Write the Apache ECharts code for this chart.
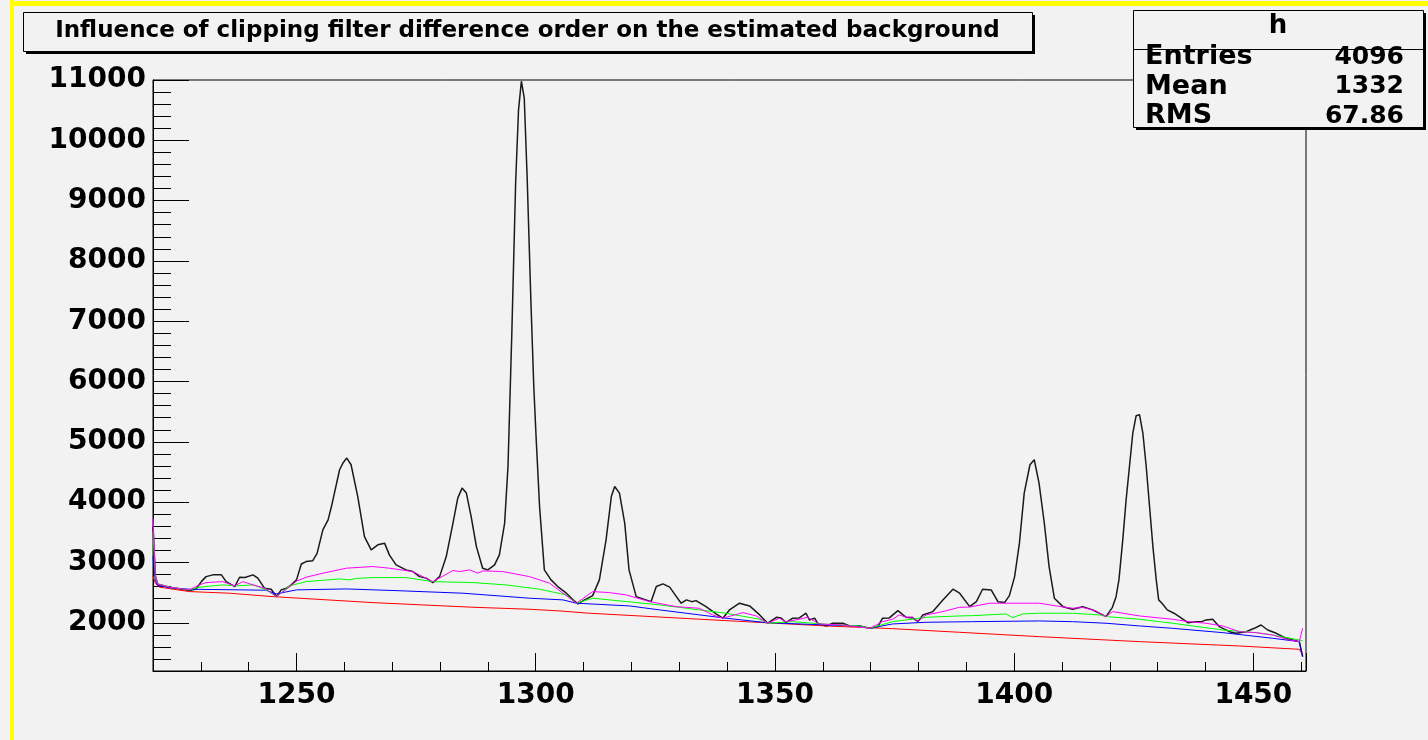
<!DOCTYPE html>
<html>
<head>
<meta charset="utf-8">
<script src="https://cdn.jsdelivr.net/npm/echarts@6/dist/echarts.min.js"></script>
<style>
html,body{margin:0;padding:0;background:#f2f2f2;}
#chart{width:1428px;height:740px;}
</style>
</head>
<body>
<div id="chart"></div>
<script>
// ---------------- data ----------------
const titleText = 'Influence of clipping filter difference order on the estimated background';
const statsTitle = 'h';
const statsLabels = ['Entries', 'Mean', 'RMS'];
const statsValues = ['4096', '1332', '67.86'];

const xRange = [1220, 1461];
const yRange = [1200, 11000];

const spectrumX = [1220.0,1220.5,1221.0,1223.5,1227.6,1229.0,1230.1,1231.1,1232.5,1234.3,1235.3,1237.1,1238.1,1239.2,1240.9,1241.9,1243.3,1244.7,1245.8,1246.8,1247.9,1248.9,1250.0,1251.0,1252.0,1253.4,1254.3,1255.5,1256.6,1257.3,1259.0,1259.7,1260.5,1261.4,1262.8,1264.2,1265.6,1267.0,1268.4,1269.4,1270.8,1272.9,1274.3,1275.7,1277.1,1278.5,1279.9,1281.3,1282.7,1283.7,1284.6,1285.5,1286.5,1287.6,1288.9,1290.0,1291.4,1292.4,1293.5,1294.2,1295.0,1295.8,1296.4,1297.0,1297.6,1298.2,1299.0,1299.6,1300.1,1300.8,1301.8,1303.2,1304.6,1306.4,1307.8,1308.8,1310.2,1311.9,1313.3,1314.7,1315.8,1316.5,1317.5,1318.6,1319.5,1321.0,1324.1,1325.2,1326.6,1328.0,1329.4,1330.4,1331.5,1332.6,1333.5,1335.6,1337.7,1339.1,1340.5,1342.6,1344.7,1346.8,1348.5,1350.3,1351.3,1352.3,1353.7,1355.1,1356.5,1357.2,1358.3,1358.9,1360.7,1362.1,1364.2,1365.6,1367.7,1369.8,1371.5,1372.5,1373.9,1375.7,1377.4,1378.8,1379.9,1380.9,1383.0,1385.1,1387.2,1388.6,1390.7,1392.1,1393.4,1395.2,1396.6,1398.0,1399.0,1400.1,1401.1,1402.1,1403.3,1404.2,1405.2,1406.3,1407.3,1408.4,1410.2,1412.2,1414.3,1416.4,1419.2,1420.5,1421.3,1421.9,1422.7,1423.4,1424.1,1424.8,1425.5,1426.2,1426.9,1427.6,1428.3,1429.0,1429.7,1430.2,1430.9,1432.0,1433.4,1434.5,1436.3,1438.0,1439.2,1440.1,1441.5,1442.9,1445.0,1446.4,1448.5,1450.2,1451.6,1453.0,1454.8,1456.8,1458.2,1459.6,1460.3];
const spectrumY = [3600,2750,2640,2590,2533,2560,2682,2765,2794,2794,2682,2600,2755,2750,2794,2740,2573,2556,2433,2545,2573,2628,2711,2975,3014,3030,3150,3540,3707,3927,4537,4648,4731,4620,4093,3429,3209,3292,3320,3126,2960,2877,2850,2765,2740,2666,2765,3097,3652,4067,4233,4150,3761,3263,2905,2877,2960,3126,3652,4591,6800,9300,10500,10980,10700,9400,7300,5900,5035,3927,2877,2711,2600,2490,2379,2312,2379,2450,2711,3375,4093,4260,4150,3652,2877,2433,2350,2600,2644,2590,2433,2324,2379,2350,2367,2267,2146,2075,2213,2324,2279,2130,1992,2091,2080,2002,2075,2080,2158,2047,2075,1992,1947,1992,1992,1947,1947,1908,1935,2075,2080,2201,2091,2080,2018,2130,2185,2379,2556,2490,2267,2350,2556,2545,2350,2334,2450,2765,3320,4150,4620,4703,4316,3652,2932,2407,2267,2224,2267,2213,2101,2250,2433,2711,3375,4038,4591,5146,5433,5450,5146,4591,3927,3263,2711,2379,2324,2213,2158,2101,2002,2018,2018,2047,2058,1935,1852,1825,1852,1908,1963,1880,1825,1743,1715,1687,1437];

// order 8 background (magenta)
const magentaX = [1220.0,1220.5,1221.0,1223.5,1227.6,1229.7,1231.1,1234.6,1237.1,1238.8,1240.9,1243.4,1245.8,1247.9,1250.0,1252.0,1255.5,1260.4,1266.0,1269.4,1274.3,1278.5,1282.7,1284.1,1286.2,1287.9,1289.0,1293.1,1298.7,1302.9,1305.7,1308.5,1311.9,1315.4,1318.9,1323.8,1329.4,1334.2,1337.0,1339.1,1343.3,1346.1,1348.5,1350.9,1352.3,1355.1,1356.8,1359.3,1364.2,1369.8,1372.5,1374.6,1376.0,1377.4,1378.8,1379.9,1381.6,1385.1,1388.6,1390.7,1394.9,1398.3,1405.3,1408.8,1412.2,1414.3,1417.0,1419.2,1420.6,1426.2,1433.1,1436.6,1440.1,1443.6,1447.1,1450.6,1454.0,1457.5,1459.6,1460.3];
const magentaY = [3735,2800,2640,2590,2545,2628,2666,2682,2612,2682,2628,2573,2433,2556,2690,2755,2821,2905,2932,2905,2849,2682,2866,2849,2877,2822,2860,2849,2765,2656,2490,2324,2517,2500,2462,2350,2267,2240,2130,2075,2168,2113,1992,2075,2018,2058,2091,1980,1963,1908,2018,2058,2130,2091,2096,2018,2130,2185,2257,2260,2324,2324,2324,2279,2240,2253,2200,2101,2185,2113,2058,2018,1992,1947,1852,1836,1797,1715,1687,1908];

// order 6 background (green)
const greenX = [1220.0,1220.5,1221.0,1223.5,1227.6,1229.7,1234.6,1237.7,1240.9,1243.4,1245.8,1248.5,1252.0,1259.0,1261.1,1262.5,1266.0,1272.9,1278.5,1286.9,1293.8,1300.8,1306.4,1308.5,1311.9,1325.9,1339.8,1346.8,1348.5,1353.7,1360.7,1367.7,1369.8,1374.6,1381.6,1388.6,1391.3,1398.3,1399.7,1401.8,1405.3,1412.2,1417.8,1419.5,1426.2,1433.1,1443.6,1450.6,1454.0,1459.6,1460.3];
const greenY = [3500,2750,2640,2590,2545,2590,2628,2612,2628,2556,2433,2611,2682,2727,2711,2735,2749,2749,2682,2666,2628,2556,2462,2324,2407,2296,2158,2058,1992,2018,1975,1947,1908,2018,2091,2113,2118,2146,2085,2146,2158,2158,2130,2101,2058,1992,1880,1836,1797,1715,1700];

// order 4 background (blue)
const blueX = [1220.0,1220.5,1221.0,1223.5,1227.6,1243.5,1245.8,1250.0,1260.4,1270.8,1284.8,1298.7,1305.7,1308.5,1319.6,1325.9,1339.8,1348.2,1360.7,1367.7,1369.8,1374.6,1381.6,1391.3,1405.3,1412.2,1419.2,1426.2,1433.1,1443.6,1454.0,1459.6,1460.3];
const blueY = [3097,2700,2620,2580,2556,2540,2480,2545,2561,2533,2490,2407,2379,2324,2279,2213,2075,2002,1963,1947,1908,1980,2008,2018,2030,2018,1992,1947,1908,1836,1743,1687,1437];

// order 2 background (red)
const redX = [1220.0,1220.5,1221.4,1227.6,1236.0,1245.1,1266.0,1286.9,1298.7,1305.0,1311.2,1339.8,1360.7,1374.6,1388.6,1405.3,1426.2,1447.1,1459.6,1460.3];
const redY = [2777,2650,2590,2517,2490,2433,2334,2257,2224,2196,2158,2035,1947,1902,1842,1769,1687,1615,1560,1466];

const xMajorStep = 50, xMinorStep = 10, xMajorStart = 1250;
const yMajorStep = 1000, yMinorStep = 200, yMajorStart = 2000;

// ---------------- layout ----------------
const W = 1428, H = 740;
const gLeft = 153, gRight = 122, gTop = 80, gBottom = 69;
const plotW = W - gLeft - gRight, plotH = H - gTop - gBottom;
const grid2Bottom = gBottom + (yMajorStart - yRange[0]) / (yRange[1] - yRange[0]) * plotH;
const grid3Left = gLeft + (xMajorStart - xRange[0]) / (xRange[1] - xRange[0]) * plotW;

const FONT = '"DejaVu Sans", "Liberation Sans", sans-serif';
const zip = (xs, ys) => xs.map((x, i) => [x, ys[i]]);

const chart = echarts.init(document.getElementById('chart'), null, {renderer: 'canvas'});

function lineSeries(name, xs, ys, color, z, width) {
  return {
    name, type: 'line', data: zip(xs, ys), xAxisIndex: 0, yAxisIndex: 0,
    showSymbol: false, symbol: 'none', smooth: false, z,
    lineStyle: {color, width}, emphasis: {disabled: true}, silent: true
  };
}

const statsBox = {x: 1133, y: 10, w: 290, h: 117, sep: 39.5};
const titleBox = {x: 23, y: 12, w: 1009, h: 39};

const graphics = [
  // yellow canvas border
  {type: 'rect', shape: {x: 10, y: 0, width: 4, height: H}, style: {fill: '#ffff00'}, z: 100},
  {type: 'rect', shape: {x: 10, y: 1, width: W - 10, height: 5}, style: {fill: '#ffff00'}, z: 100},
  // title box with shadow
  {type: 'rect', shape: {x: titleBox.x + 3, y: titleBox.y + 3, width: titleBox.w, height: titleBox.h}, style: {fill: '#000'}, z: 100},
  {type: 'rect', shape: {x: titleBox.x + 0.5, y: titleBox.y + 0.5, width: titleBox.w, height: titleBox.h}, style: {fill: '#f2f2f2', stroke: '#000', lineWidth: 1}, z: 101},
  {type: 'text', z: 102, style: {text: titleText, x: titleBox.x + titleBox.w / 2, y: titleBox.y + titleBox.h / 2,
    font: 'bold 23px ' + FONT, fill: '#000', align: 'center', verticalAlign: 'middle', textAlign: 'center', textVerticalAlign: 'middle'}},
  // stats box with shadow
  {type: 'rect', shape: {x: statsBox.x + 3, y: statsBox.y + 3, width: statsBox.w, height: statsBox.h}, style: {fill: '#000'}, z: 100},
  {type: 'rect', shape: {x: statsBox.x + 0.5, y: statsBox.y + 0.5, width: statsBox.w, height: statsBox.h}, style: {fill: '#f2f2f2', stroke: '#000', lineWidth: 1}, z: 101},
  {type: 'line', shape: {x1: statsBox.x, y1: statsBox.y + statsBox.sep, x2: statsBox.x + statsBox.w, y2: statsBox.y + statsBox.sep}, style: {stroke: '#000', lineWidth: 1}, z: 102},
  {type: 'text', z: 102, style: {text: statsTitle, x: statsBox.x + statsBox.w / 2, y: statsBox.y + 16,
    font: 'bold 26px ' + FONT, fill: '#000', align: 'center', verticalAlign: 'middle', textAlign: 'center', textVerticalAlign: 'middle'}}
];
const rowY = [57, 86.5, 116];
statsLabels.forEach((lab, i) => {
  graphics.push({type: 'text', z: 102, style: {text: lab, x: statsBox.x + 12, y: rowY[i],
    font: 'bold 27px ' + FONT, fill: '#000', align: 'left', verticalAlign: 'middle', textAlign: 'left', textVerticalAlign: 'middle'}});
  graphics.push({type: 'text', z: 102, style: {text: statsValues[i], x: statsBox.x + statsBox.w - 19, y: rowY[i],
    font: 'bold 25px ' + FONT, fill: '#000', align: 'right', verticalAlign: 'middle', textAlign: 'right', textVerticalAlign: 'middle'}});
});

const tickLine = {color: '#000', width: 1};
const option = {
  animation: false,
  backgroundColor: '#f2f2f2',
  grid: [
    {left: gLeft, right: gRight, top: gTop, bottom: gBottom, show: true, borderColor: '#000', borderWidth: 1, backgroundColor: 'transparent', containLabel: false},
    {left: gLeft, right: gRight, top: gTop, bottom: grid2Bottom, show: false, containLabel: false},
    {left: grid3Left, right: gRight, top: gTop, bottom: gBottom, show: false, containLabel: false}
  ],
  xAxis: [
    {gridIndex: 0, type: 'value', min: xRange[0], max: xRange[1], interval: xMinorStep,
     axisLine: {show: true, lineStyle: tickLine}, axisTick: {show: true, inside: true, length: 9, lineStyle: tickLine},
     axisLabel: {show: false}, splitLine: {show: false}},
    {gridIndex: 1, type: 'value', min: xRange[0], max: xRange[1], show: false},
    {gridIndex: 2, type: 'value', min: xMajorStart, max: xRange[1], interval: xMajorStep,
     axisLine: {show: false}, axisTick: {show: true, inside: true, length: 18, lineStyle: tickLine},
     axisLabel: {show: true, margin: 11, color: '#000', fontSize: 28, fontWeight: 'bold', fontFamily: FONT,
       formatter: v => (Math.abs(v % xMajorStep) < 1e-6 ? String(v) : '')},
     splitLine: {show: false}}
  ],
  yAxis: [
    {gridIndex: 0, type: 'value', min: yRange[0], max: yRange[1], interval: yMinorStep,
     axisLine: {show: true, lineStyle: tickLine}, axisTick: {show: true, inside: true, length: 18, lineStyle: tickLine},
     axisLabel: {show: false}, splitLine: {show: false}},
    {gridIndex: 1, type: 'value', min: yMajorStart, max: yRange[1], interval: yMajorStep,
     axisLine: {show: false}, axisTick: {show: true, inside: true, length: 36, lineStyle: tickLine},
     axisLabel: {show: true, margin: 7, color: '#000', fontSize: 28, fontWeight: 'bold', fontFamily: FONT,
       formatter: v => (Math.abs(v % yMajorStep) < 1e-6 ? String(v) : '')},
     splitLine: {show: false}},
    {gridIndex: 2, type: 'value', min: yRange[0], max: yRange[1], show: false}
  ],
  series: [
    lineSeries('h', spectrumX, spectrumY, '#1a1a1a', 2, 1.5),
    lineSeries('order 2', redX, redY, '#ff0000', 3, 1),
    lineSeries('order 4', blueX, blueY, '#0000ff', 4, 1),
    lineSeries('order 6', greenX, greenY, '#00ff00', 5, 1),
    lineSeries('order 8', magentaX, magentaY, '#ff00ff', 6, 1)
  ],
  graphic: graphics
};
chart.setOption(option);
</script>
</body>
</html>
